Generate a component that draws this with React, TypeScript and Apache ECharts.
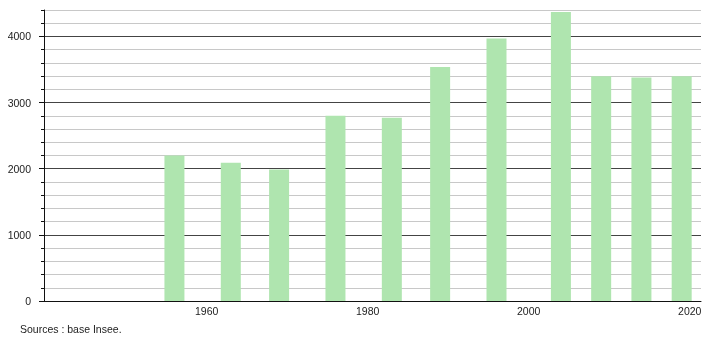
import React, { useEffect, useRef } from "react";
import * as echarts from "echarts";

const years = [1956, 1963, 1969, 1976, 1983, 1989, 1996, 2004, 2009, 2014, 2019];
const values = [2200, 2090, 1990, 2800, 2770, 3540, 3970, 4370, 3400, 3380, 3400];
const xTickLabels = [1960, 1980, 2000, 2020];
const yMajorTicks = [0, 1000, 2000, 3000, 4000];
const sourceText = "Sources : base Insee.";

export default function App() {
  const ref = useRef<HTMLDivElement>(null);
  useEffect(() => {
    if (!ref.current) return;
    const chart = echarts.init(ref.current, null, { renderer: "svg" });
    const font = "'Liberation Sans', Arial, sans-serif";
    chart.setOption({
      animation: false,
      textStyle: { fontFamily: font },
      grid: { left: 44, right: 9, top: 10, bottom: 39, containLabel: false },
      xAxis: {
        type: "value",
        min: 1939.8,
        max: 2021.4,
        axisLine: { show: true, onZero: false, lineStyle: { color: "#111", width: 1 } },
        axisTick: { show: false },
        splitLine: { show: false },
        axisLabel: {
          customValues: xTickLabels,
          color: "#222",
          fontSize: 10.5,
          fontFamily: font,
          margin: 4,
          formatter: (v: number) => String(v),
        },
      },
      yAxis: [
        {
          type: "value",
          min: 0,
          max: 4400,
          interval: 200,
          axisLine: { show: true, lineStyle: { color: "#111", width: 1 } },
          axisTick: { show: true, length: 3, lineStyle: { color: "#111" } },
          axisLabel: {
            color: "#222",
            fontSize: 10.5,
            fontFamily: font,
            margin: 13,
            formatter: (v: number) => (v % 1000 === 0 && v <= 4000 ? String(v) : ""),
          },
          splitLine: {
            show: true,
            lineStyle: {
              color: ["#444", "#c8c8c8", "#c8c8c8", "#c8c8c8", "#c8c8c8"],
              width: 1,
            },
          },
        },
        {
          type: "value",
          min: 0,
          max: 4400,
          position: "left",
          axisLine: { show: false },
          axisTick: { show: true, length: 5, customValues: yMajorTicks, lineStyle: { color: "#111" } },
          axisLabel: { show: false },
          splitLine: { show: false },
        },
      ],
      series: [
        {
          type: "bar",
          data: years.map((y, i) => [y, values[i]]),
          barWidth: 20,
          itemStyle: { color: "#afe5af" },
        },
      ],
      graphic: [
        {
          type: "text",
          left: 20,
          top: 323,
          style: { text: sourceText, fill: "#222", font: `10.5px ${font}` },
        },
      ],
    });
    return () => chart.dispose();
  }, []);
  return (
    <div
      ref={ref}
      style={{ position: "fixed", left: 0, top: 0, width: 710, height: 340 }}
    />
  );
}
